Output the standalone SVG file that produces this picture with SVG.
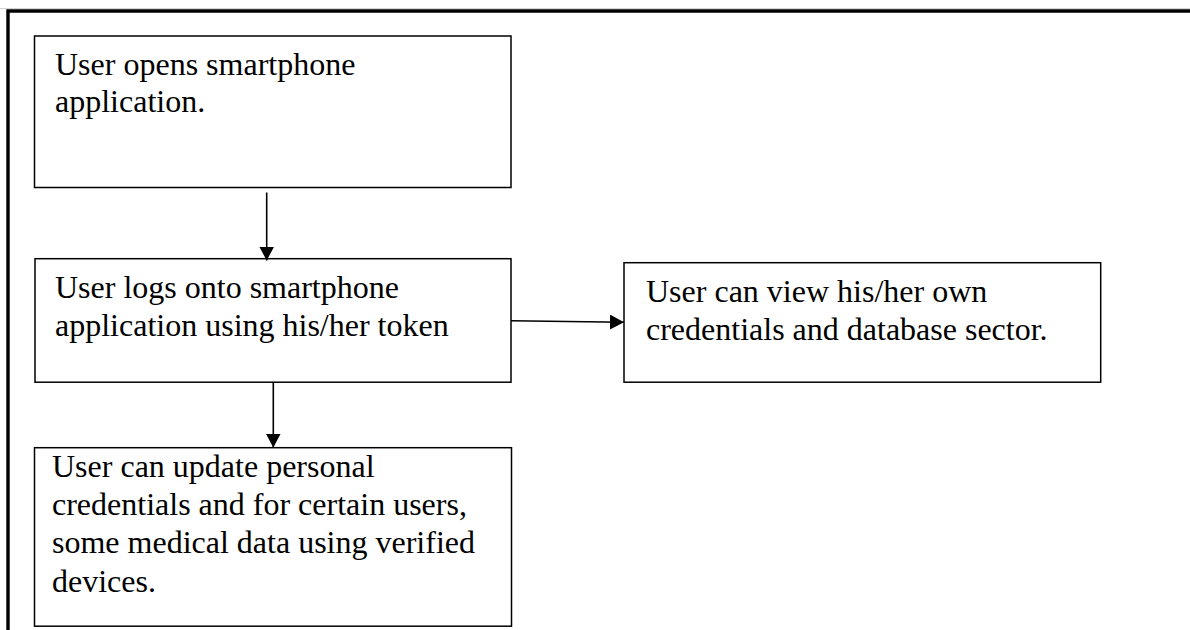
<svg xmlns="http://www.w3.org/2000/svg" width="1190" height="630" viewBox="0 0 1190 630">
  <style>
    .box { fill: #ffffff; stroke: #000000; stroke-width: 1.5; }
    .lbl { font-family: "Liberation Serif", "Times New Roman", serif; font-size: 32px; fill: #000000; }
    .conn { stroke: #000000; stroke-width: 1.6; fill: none; marker-end: url(#arrow); }
    .frame { stroke: #000000; stroke-width: 3.4; fill: none; }
  </style>
  <defs>
    <marker id="arrow" markerUnits="userSpaceOnUse" markerWidth="15" markerHeight="15" refX="14" refY="7.5" orient="auto">
      <path d="M0,0 L14,7.5 L0,15 Z" fill="#000000"/>
    </marker>
  </defs>

  <rect width="1190" height="630" fill="#ffffff"/>

  <!-- page frame: top and left rules -->
  <g id="frame">
    <line x1="0" y1="8.6" x2="1190" y2="8.6" stroke="#d0d0d0" stroke-width="1"/>
    <path class="frame" d="M8,630 L8,11 L1190,11"/>
  </g>

  <g id="node-open">
    <rect class="box" x="34.5" y="36" width="476.5" height="151.5"/>
    <text class="lbl" x="55" y="75">User opens smartphone</text>
    <text class="lbl" x="55" y="112">application.</text>
  </g>

  <g id="node-login">
    <rect class="box" x="35" y="258.7" width="476" height="123.5"/>
    <text class="lbl" x="55" y="298">User logs onto smartphone</text>
    <text class="lbl" x="55" y="336">application using his/her token</text>
  </g>

  <g id="node-view">
    <rect class="box" x="624" y="262.7" width="476.7" height="119.5"/>
    <text class="lbl" x="646" y="302">User can view his/her own</text>
    <text class="lbl" x="646" y="340">credentials and database sector.</text>
  </g>

  <g id="node-update">
    <rect class="box" x="34.5" y="447.7" width="477" height="178.5"/>
    <text class="lbl" x="52" y="477">User can update personal</text>
    <text class="lbl" x="52" y="515">credentials and for certain users,</text>
    <text class="lbl" x="52" y="553">some medical data using verified</text>
    <text class="lbl" x="52" y="592">devices.</text>
  </g>

  <g id="connectors">
    <line class="conn" x1="266.7" y1="192.5" x2="266.7" y2="260.5"/>
    <line class="conn" x1="511" y1="320.7" x2="624" y2="322.3"/>
    <line class="conn" x1="273.3" y1="382.2" x2="273.3" y2="447.5"/>
  </g>
</svg>
